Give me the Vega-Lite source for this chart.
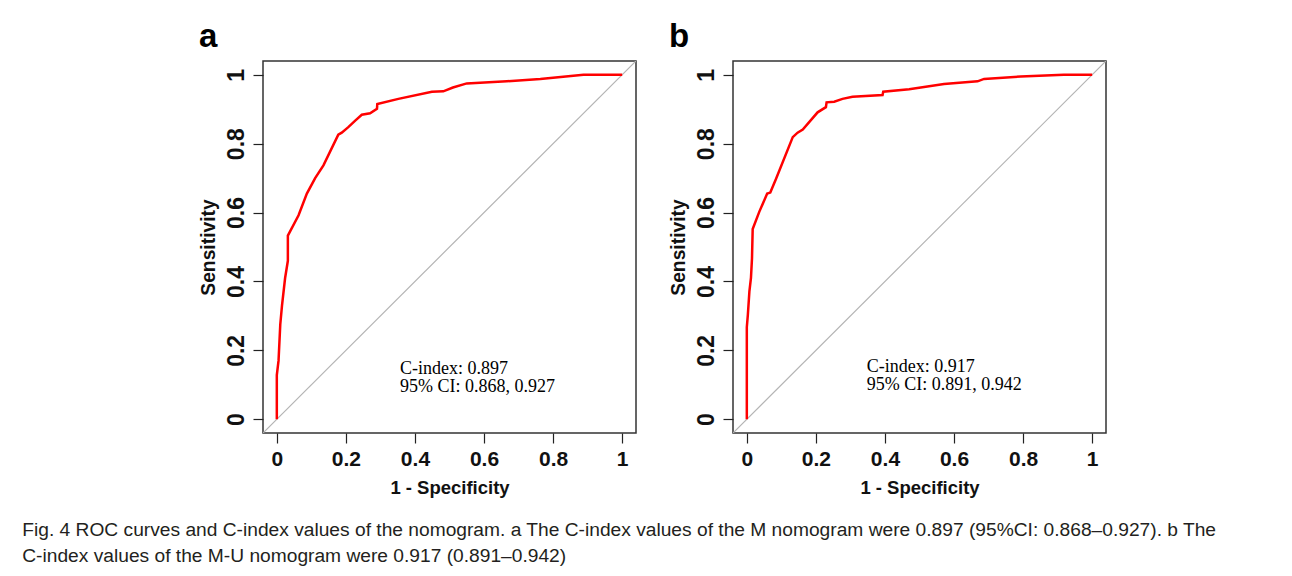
{
  "$schema": "https://vega.github.io/schema/vega-lite/v6.json",
  "background": "white",
  "padding": {"left": 22, "top": 20, "right": 10, "bottom": 4},
  "datasets": {
    "roc": [
      {"panel": "a", "i": 0, "x": 0, "y": 0},
      {"panel": "a", "i": 1, "x": 0, "y": 0.128},
      {"panel": "a", "i": 2, "x": 0.005, "y": 0.17},
      {"panel": "a", "i": 3, "x": 0.01, "y": 0.275},
      {"panel": "a", "i": 4, "x": 0.015, "y": 0.33},
      {"panel": "a", "i": 5, "x": 0.024, "y": 0.41},
      {"panel": "a", "i": 6, "x": 0.032, "y": 0.46},
      {"panel": "a", "i": 7, "x": 0.032, "y": 0.533},
      {"panel": "a", "i": 8, "x": 0.063, "y": 0.592},
      {"panel": "a", "i": 9, "x": 0.087, "y": 0.655},
      {"panel": "a", "i": 10, "x": 0.111, "y": 0.7},
      {"panel": "a", "i": 11, "x": 0.135, "y": 0.737},
      {"panel": "a", "i": 12, "x": 0.178, "y": 0.826},
      {"panel": "a", "i": 13, "x": 0.188, "y": 0.832},
      {"panel": "a", "i": 14, "x": 0.207, "y": 0.848},
      {"panel": "a", "i": 15, "x": 0.227, "y": 0.867},
      {"panel": "a", "i": 16, "x": 0.246, "y": 0.884},
      {"panel": "a", "i": 17, "x": 0.27, "y": 0.888},
      {"panel": "a", "i": 18, "x": 0.29, "y": 0.901},
      {"panel": "a", "i": 19, "x": 0.291, "y": 0.915},
      {"panel": "a", "i": 20, "x": 0.352, "y": 0.93},
      {"panel": "a", "i": 21, "x": 0.449, "y": 0.951},
      {"panel": "a", "i": 22, "x": 0.482, "y": 0.952},
      {"panel": "a", "i": 23, "x": 0.51, "y": 0.963},
      {"panel": "a", "i": 24, "x": 0.55, "y": 0.975},
      {"panel": "a", "i": 25, "x": 0.666, "y": 0.981},
      {"panel": "a", "i": 26, "x": 0.763, "y": 0.988},
      {"panel": "a", "i": 27, "x": 0.888, "y": 1.0},
      {"panel": "a", "i": 28, "x": 1.0, "y": 1.0},
      {"panel": "b", "i": 0, "x": 0, "y": 0},
      {"panel": "b", "i": 1, "x": 0, "y": 0.267},
      {"panel": "b", "i": 2, "x": 0.003, "y": 0.303},
      {"panel": "b", "i": 3, "x": 0.0075, "y": 0.371},
      {"panel": "b", "i": 4, "x": 0.012, "y": 0.41},
      {"panel": "b", "i": 5, "x": 0.015, "y": 0.467},
      {"panel": "b", "i": 6, "x": 0.017, "y": 0.552},
      {"panel": "b", "i": 7, "x": 0.036, "y": 0.602},
      {"panel": "b", "i": 8, "x": 0.059, "y": 0.655},
      {"panel": "b", "i": 9, "x": 0.068, "y": 0.658},
      {"panel": "b", "i": 10, "x": 0.085, "y": 0.699},
      {"panel": "b", "i": 11, "x": 0.133, "y": 0.819},
      {"panel": "b", "i": 12, "x": 0.147, "y": 0.832},
      {"panel": "b", "i": 13, "x": 0.162, "y": 0.841},
      {"panel": "b", "i": 14, "x": 0.205, "y": 0.891},
      {"panel": "b", "i": 15, "x": 0.229, "y": 0.906},
      {"panel": "b", "i": 16, "x": 0.231, "y": 0.92},
      {"panel": "b", "i": 17, "x": 0.253, "y": 0.922},
      {"panel": "b", "i": 18, "x": 0.277, "y": 0.93},
      {"panel": "b", "i": 19, "x": 0.306, "y": 0.936},
      {"panel": "b", "i": 20, "x": 0.393, "y": 0.941},
      {"panel": "b", "i": 21, "x": 0.395, "y": 0.951},
      {"panel": "b", "i": 22, "x": 0.47, "y": 0.958},
      {"panel": "b", "i": 23, "x": 0.571, "y": 0.973},
      {"panel": "b", "i": 24, "x": 0.668, "y": 0.981},
      {"panel": "b", "i": 25, "x": 0.687, "y": 0.988},
      {"panel": "b", "i": 26, "x": 0.793, "y": 0.995},
      {"panel": "b", "i": 27, "x": 0.918, "y": 1.0},
      {"panel": "b", "i": 28, "x": 1.0, "y": 1.0}
    ],
    "diag": [{"x": -0.04, "y": -0.04}, {"x": 1.04, "y": 1.04}]
  },
  "title": {
    "text": [
      "Fig. 4 ROC curves and C-index values of the nomogram. a The C-index values of the M nomogram were 0.897 (95%CI: 0.868–0.927). b The",
      "C-index values of the M-U nomogram were 0.917 (0.891–0.942)"
    ],
    "orient": "bottom",
    "anchor": "start",
    "frame": "bounds",
    "dx": -176,
    "offset": 24,
    "font": "Liberation Sans",
    "fontSize": 19.2,
    "fontWeight": "normal",
    "lineHeight": 26,
    "color": "#231f20"
  },
  "spacing": 31,
  "hconcat": [
    {
      "width": 373,
      "height": 372,
      "title": {"text": "a", "anchor": "start", "frame": "bounds", "fontSize": 33, "fontWeight": "bold", "font": "Liberation Sans", "baseline": "alphabetic", "offset": -19, "color": "#000"},
      "layer": [
        {
          "data": {"name": "diag"},
          "mark": {"type": "line", "color": "#b4b4b4", "strokeWidth": 1.2, "clip": true},
          "encoding": {
            "x": {"field": "x", "type": "quantitative", "scale": {"domain": [-0.04, 1.04], "nice": false, "zero": false},
                  "axis": {"title": "1 - Specificity", "values": [0, 0.2, 0.4, 0.6, 0.8, 1], "format": "~g"}},
            "y": {"field": "y", "type": "quantitative", "scale": {"domain": [-0.04, 1.04], "nice": false, "zero": false},
                  "axis": {"title": "Sensitivity", "values": [0, 0.2, 0.4, 0.6, 0.8, 1], "format": "~g"}}
          }
        },
        {
          "data": {"name": "roc"},
          "transform": [{"filter": "datum.panel === 'a'"}],
          "mark": {"type": "line", "color": "#ff0000", "strokeWidth": 2.5},
          "encoding": {
            "x": {"field": "x", "type": "quantitative"},
            "y": {"field": "y", "type": "quantitative"},
            "order": {"field": "i", "type": "quantitative"}
          }
        },
        {
          "data": {"values": [{}]},
          "mark": {"type": "text", "font": "Liberation Serif", "fontSize": 18, "align": "left", "baseline": "alphabetic", "lineHeight": 18, "color": "#000"},
          "encoding": {
            "x": {"datum": 0.357, "type": "quantitative"},
            "y": {"datum": 0.132, "type": "quantitative"},
            "text": {"value": ["C-index: 0.897", "95% CI: 0.868, 0.927"]}
          }
        }
      ]
    },
    {
      "width": 373,
      "height": 372,
      "title": {"text": "b", "anchor": "start", "frame": "bounds", "fontSize": 33, "fontWeight": "bold", "font": "Liberation Sans", "baseline": "alphabetic", "offset": -19, "color": "#000"},
      "layer": [
        {
          "data": {"name": "diag"},
          "mark": {"type": "line", "color": "#b4b4b4", "strokeWidth": 1.2, "clip": true},
          "encoding": {
            "x": {"field": "x", "type": "quantitative", "scale": {"domain": [-0.04, 1.04], "nice": false, "zero": false},
                  "axis": {"title": "1 - Specificity", "values": [0, 0.2, 0.4, 0.6, 0.8, 1], "format": "~g"}},
            "y": {"field": "y", "type": "quantitative", "scale": {"domain": [-0.04, 1.04], "nice": false, "zero": false},
                  "axis": {"title": "Sensitivity", "values": [0, 0.2, 0.4, 0.6, 0.8, 1], "format": "~g"}}
          }
        },
        {
          "data": {"name": "roc"},
          "transform": [{"filter": "datum.panel === 'b'"}],
          "mark": {"type": "line", "color": "#ff0000", "strokeWidth": 2.5},
          "encoding": {
            "x": {"field": "x", "type": "quantitative"},
            "y": {"field": "y", "type": "quantitative"},
            "order": {"field": "i", "type": "quantitative"}
          }
        },
        {
          "data": {"values": [{}]},
          "mark": {"type": "text", "font": "Liberation Serif", "fontSize": 18, "align": "left", "baseline": "alphabetic", "lineHeight": 18, "color": "#000"},
          "encoding": {
            "x": {"datum": 0.347, "type": "quantitative"},
            "y": {"datum": 0.137, "type": "quantitative"},
            "text": {"value": ["C-index: 0.917", "95% CI: 0.891, 0.942"]}
          }
        }
      ]
    }
  ],
  "config": {
    "view": {"stroke": "#333", "strokeWidth": 1.5},
    "axis": {
      "domain": false, "grid": false, "ticks": true,
      "tickColor": "#222", "tickSize": 10, "tickWidth": 1.2,
      "labelFont": "Liberation Sans", "labelFontWeight": "bold", "labelFontSize": 21, "labelColor": "#111",
      "titleFont": "Liberation Sans", "titleFontWeight": "bold", "titleFontSize": 18.5, "titleColor": "#111"
    },
    "axisX": {"labelPadding": 5, "titlePadding": 9, "labelFlush": false},
    "axisY": {"labelAngle": -90, "labelAlign": "center", "labelBaseline": "alphabetic", "labelPadding": 10, "titlePadding": 7, "labelFlush": false, "labelFontSize": 23, "titleFontSize": 19.3}
  }
}
